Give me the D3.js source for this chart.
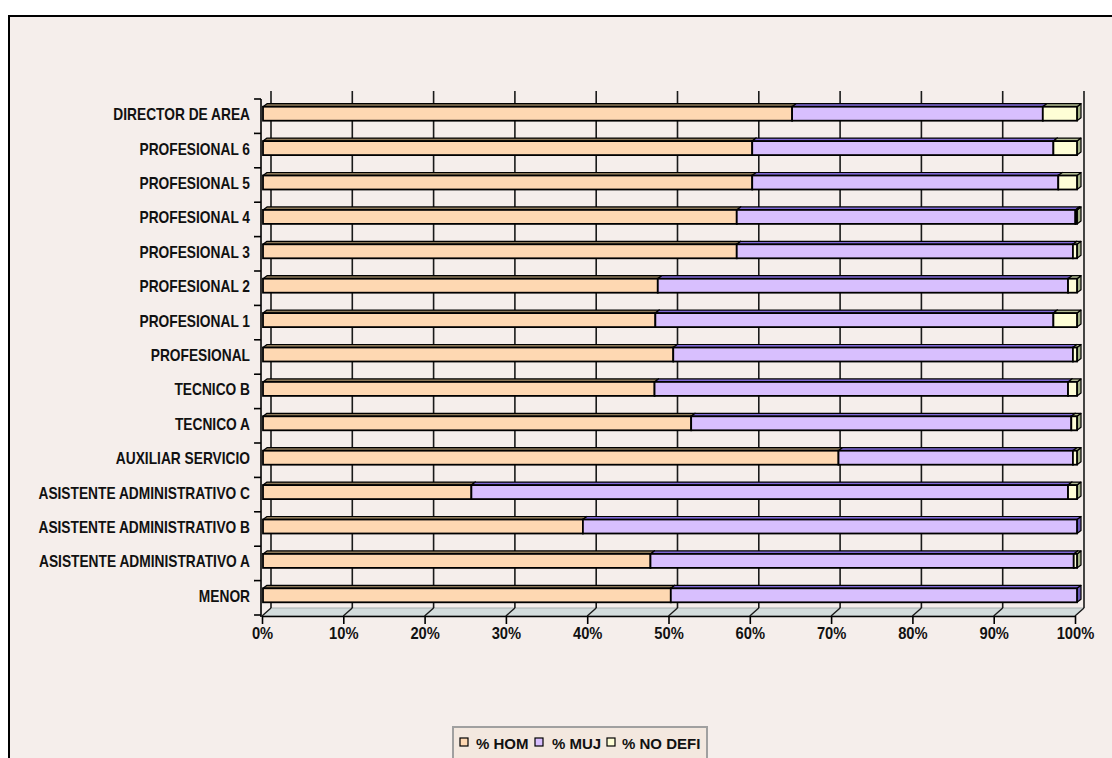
<!DOCTYPE html>
<html>
<head>
<meta charset="utf-8">
<script src="https://cdn.jsdelivr.net/npm/d3@7"></script>
<style>
  html, body { margin: 0; padding: 0; background: #ffffff; }
  svg { display: block; }
  text { font-family: "Liberation Sans", Arial, sans-serif; fill: #111; font-weight: bold; }
</style>
</head>
<body>
<svg id="chart" width="1112" height="758"></svg>
<script>
// ---- data ----
const categories = ["DIRECTOR DE AREA","PROFESIONAL 6","PROFESIONAL 5","PROFESIONAL 4","PROFESIONAL 3",
  "PROFESIONAL 2","PROFESIONAL 1","PROFESIONAL","TECNICO B","TECNICO A","AUXILIAR SERVICIO",
  "ASISTENTE ADMINISTRATIVO C","ASISTENTE ADMINISTRATIVO B","ASISTENTE ADMINISTRATIVO A","MENOR"];
const seriesNames = ["% HOM", "% MUJ", "% NO DEFI"];
const hom    = [65.0, 60.1, 60.1, 58.2, 58.2, 48.5, 48.2, 50.4, 48.1, 52.6, 70.7, 25.6, 39.3, 47.6, 50.1];
const muj    = [30.8, 37.0, 37.6, 41.6, 41.3, 50.4, 48.9, 49.1, 50.8, 46.7, 28.8, 73.3, 60.7, 52.0, 49.9];
const nodefi = [4.2, 2.9, 2.3, 0.2, 0.5, 1.1, 2.9, 0.5, 1.1, 0.7, 0.5, 1.1, 0.0, 0.4, 0.0];
const tickValues = [0,10,20,30,40,50,60,70,80,90,100];
const tickLabels = ["0%","10%","20%","30%","40%","50%","60%","70%","80%","90%","100%"];

// ---- styles ----
const colors = {
  front: ["#FED8B2", "#D8BFFE", "#FEFED6"],
  top:   ["#8C7858", "#7F68D6", "#B2BA92"],
  side:  ["#8C7858", "#6A58B8", "#A4B286"]
};

const svg = d3.select("#chart");
svg.append("rect").attr("x", 9).attr("y", 16).attr("width", 1120).attr("height", 760)
  .attr("fill", "#F5EEEB").attr("stroke", "#000").attr("stroke-width", 2);

const xAxisScale = d3.scaleLinear().domain([0, 100]).range([262, 1075]);
const xBar = d3.scaleLinear().domain([0, 100]).range([263, 1077]);
const y = d3.scaleBand().domain(categories).range([99, 615]).paddingInner(0).paddingOuter(0);
const DX = 9, DY = -8;
const BDX = 4, BDY = -3;
const floorFront = 616, floorBack = floorFront + DY, wallTop = 91;

// floor
svg.append("path")
  .attr("d", `M${xAxisScale(0)},${floorFront} L${xAxisScale(100)},${floorFront} L${xAxisScale(100)+DX},${floorBack} L${xAxisScale(0)+DX},${floorBack} Z`)
  .attr("fill", "#D3DCDC").attr("stroke", "#A8B0B0").attr("stroke-width", 1);

// back wall gridlines
svg.append("g").selectAll("line").data(tickValues).join("line")
  .attr("x1", d => xAxisScale(d) + DX).attr("x2", d => xAxisScale(d) + DX)
  .attr("y1", wallTop).attr("y2", floorBack)
  .attr("stroke", "#1a1a1a").attr("stroke-width", 1.6);
// floor gridlines
svg.append("g").selectAll("line").data(tickValues).join("line")
  .attr("x1", d => xAxisScale(d)).attr("x2", d => xAxisScale(d) + DX)
  .attr("y1", floorFront).attr("y2", floorBack)
  .attr("stroke", "#1a1a1a").attr("stroke-width", 1.4);

// bars
const barH = 14;
const barsG = svg.append("g");
categories.forEach((c, i) => {
  const vals = [hom[i], muj[i], nodefi[i]];
  const cy = y(c) + y.bandwidth() / 2 - 2.5;
  const y0 = cy - barH / 2, y1 = cy + barH / 2;
  let acc = 0;
  vals.forEach((v, s) => {
    if (v <= 0) return;
    const xa = xBar(acc), xb = xBar(acc + v);
    acc += v;
    const g = barsG.append("g");
    g.append("path")
      .attr("d", `M${xb},${y0} L${xb+BDX},${y0+BDY} L${xb+BDX},${y1+BDY} L${xb},${y1} Z`)
      .attr("fill", colors.side[s]).attr("stroke", "#000").attr("stroke-width", 1.2).attr("stroke-linejoin", "round");
    g.append("path")
      .attr("d", `M${xa},${y0} L${xa+BDX},${y0+BDY} L${xb+BDX},${y0+BDY} L${xb},${y0} Z`)
      .attr("fill", colors.top[s]).attr("stroke", "#000").attr("stroke-width", 1.2).attr("stroke-linejoin", "round");
    g.append("rect")
      .attr("x", xa).attr("y", y0).attr("width", xb - xa).attr("height", barH)
      .attr("fill", colors.front[s]).attr("stroke", "#000").attr("stroke-width", 1.8);
  });
});

// category axis
svg.append("line").attr("x1", 261).attr("x2", 261).attr("y1", 99).attr("y2", floorFront + 1)
  .attr("stroke", "#000").attr("stroke-width", 1.6);
const bounds = categories.map(c => y(c)).concat([y.range()[1]]);
svg.append("g").selectAll("line").data(bounds).join("line")
  .attr("x1", 254).attr("x2", 261).attr("y1", d => d).attr("y2", d => d)
  .attr("stroke", "#000").attr("stroke-width", 1.6);
const sx = 0.86;
const catG = svg.append("g").attr("transform", `scale(${sx},1)`);
catG.selectAll("text").data(categories).join("text")
  .attr("x", 250 / sx).attr("y", d => y(d) + y.bandwidth() / 2 + 4)
  .attr("text-anchor", "end").attr("font-size", 16).text(d => d);

// value axis
const xAxis = d3.axisBottom(xAxisScale).tickValues(tickValues)
  .tickFormat((d, i) => tickLabels[i]).tickSize(8).tickSizeOuter(0).tickPadding(4);
const axG = svg.append("g").attr("transform", `translate(0,${floorFront})`).call(xAxis);
axG.select(".domain").attr("stroke", "#000").attr("stroke-width", 1.6);
axG.selectAll(".tick line").attr("stroke", "#000").attr("stroke-width", 1.6);
axG.selectAll(".tick text").attr("font-size", 16).attr("fill", "#111").attr("font-weight", "bold")
  .attr("font-family", "Liberation Sans, Arial, sans-serif").attr("transform", "scale(0.92,1)")
  .attr("x", 0);

// legend
const legG = svg.append("g");
legG.append("rect").attr("x", 453).attr("y", 727).attr("width", 254).attr("height", 40)
  .attr("fill", "#F3E8DF").attr("stroke", "#A0A0A0").attr("stroke-width", 2);
const legX = [460, 535, 607];
const legTX = [476, 552, 622];
seriesNames.forEach((n, s) => {
  legG.append("rect").attr("x", legX[s]).attr("y", 738).attr("width", 8).attr("height", 8)
    .attr("fill", colors.front[s]).attr("stroke", "#000").attr("stroke-width", 1.2);
  legG.append("text").attr("x", legTX[s]).attr("y", 749).attr("font-size", 15).text(n);
});
</script>
</body>
</html>
